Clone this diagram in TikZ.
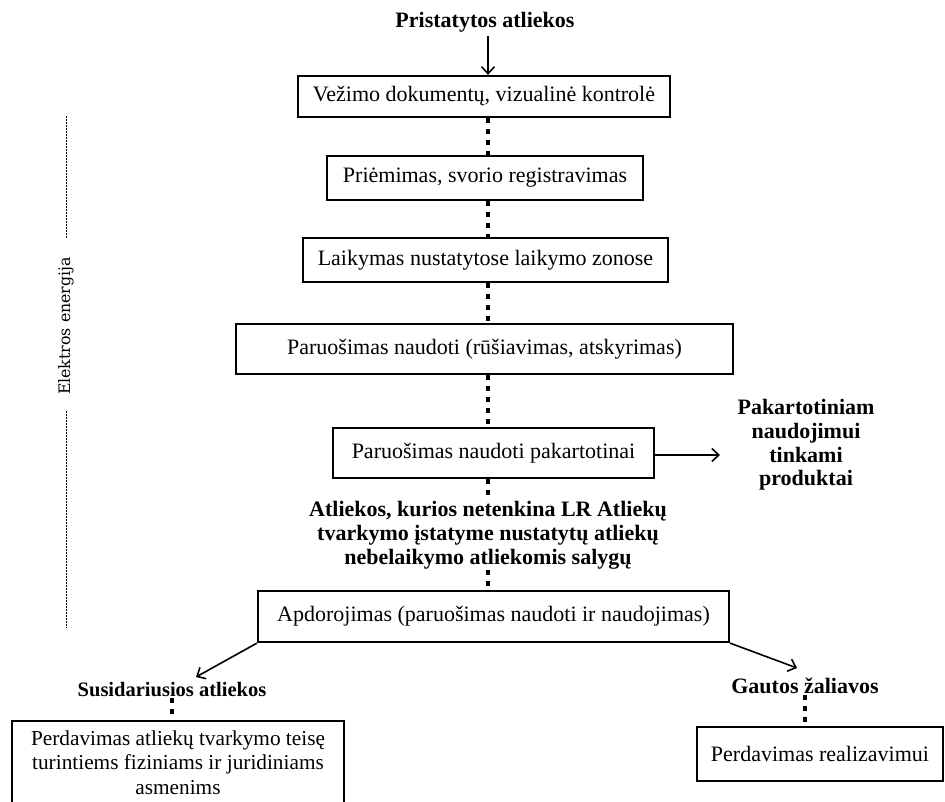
\documentclass[tikz,border=0pt]{standalone}
\usepackage{fontspec}
\setmainfont{Liberation Serif}
\newfontfamily\djserif{DejaVu Serif}
\usetikzlibrary{arrows.meta}
\begin{document}
\begin{tikzpicture}[x=1pt,y=-1pt,
  box/.style={draw, line width=2.3pt, inner sep=0pt, align=center, font=\fontsize{22}{24.5}\selectfont},
  btext/.style={inner sep=1pt, align=center, font=\fontsize{22}{23.8}\selectfont\bfseries},
  dots/.style={line width=4.5pt, dash pattern=on 5pt off 6pt},
  arr/.style={line width=1.6pt, -{Straight Barb[length=7pt,width=13pt,line width=1.6pt]}},
  thindash/.style={line width=0.7pt, dash pattern=on 2pt off 1pt}]
\useasboundingbox (0,0) rectangle (945,801);
\fill[white] (0,0) rectangle (945,801);

\coordinate (axis) at (488,0);

\node[btext] (src) at (485,22) {Pristatytos atliekos};
\node[box, minimum width=372pt, minimum height=41pt] (b1) at (484,96.5) {Vežimo dokumentų, vizualinė kontrolė};
\node[box, minimum width=316pt, minimum height=44pt] (b2) at (485,178) {Priėmimas, svorio registravimas};
\node[box, minimum width=365pt, minimum height=44pt] (b3) at (485.5,260) {Laikymas nustatytose laikymo zonose};
\node[box, minimum width=497pt, minimum height=50pt] (b4) at (484.5,349) {Paruošimas naudoti (rūšiavimas, atskyrimas)};
\node[box, minimum width=321pt, minimum height=50pt] (b5) at (493.5,453) {Paruošimas naudoti pakartotinai};
\node[btext] (prod) at (806,445) {Pakartotiniam\\naudojimui\\tinkami\\produktai};
\coordinate (pa) at (720,455);
\node[btext] (mid) at (488,535) {Atliekos, kurios netenkina LR Atliekų\\tvarkymo įstatyme nustatytų atliekų\\nebelaikymo atliekomis salygų};
\node[box, minimum width=471pt, minimum height=51pt] (b6) at (493.5,616.5) {Apdorojimas (paruošimas naudoti ir naudojimas)};
\node[btext, font=\fontsize{20.5}{23.8}\selectfont\bfseries] (susi) at (172,690) {Susidariusios atliekos};
\node[btext] (gaut) at (805,686) {Gautos žaliavos};
\coordinate (tl) at (196,677);
\coordinate (tr) at (797,668);
\node[box, minimum width=332pt, minimum height=83pt, font=\fontsize{21.3}{24.5}\selectfont] (b7) at (178,762.5) {Perdavimas atliekų tvarkymo teisę\\turintiems fiziniams ir juridiniams\\asmenims};
\node[box, minimum width=246pt, minimum height=54pt] (b8) at (820,754) {Perdavimas realizavimui};

\node[rotate=90, inner sep=0pt, font=\djserif\fontsize{15.8}{18}\selectfont] (el) at (66,326) {Elektros energija};
\coordinate (dtop) at (66,116);
\coordinate (dbot) at (66,628);
\draw[thindash] (dtop) -- (dtop |- el.east) [shorten >=19pt];
\draw[thindash, shorten <=16pt] (dbot |- el.west) -- (dbot);

\draw[arr, shorten <=3pt] (src.south -| axis) -- (b1.north -| axis);
\draw[dots] (b1.south -| axis) -- (b2.north -| axis);
\draw[dots] (b2.south -| axis) -- (b3.north -| axis);
\draw[dots] (b3.south -| axis) -- (b4.north -| axis);
\draw[dots] (b4.south -| axis) -- (b5.north -| axis);
\draw[dots] (b5.south -| axis) -- (mid.north -| axis);
\draw[dots] (mid.south -| axis) -- (b6.north -| axis);
\draw[arr] (b5.east |- pa) -- (pa);
\draw[arr] (b6.south west) -- (tl);
\draw[arr] (b6.south east) -- (tr);
\draw[dots] (susi.south) -- (susi.south |- b7.north);
\draw[dots] (gaut.south) -- (gaut.south |- b8.north);
\end{tikzpicture}
\end{document}
